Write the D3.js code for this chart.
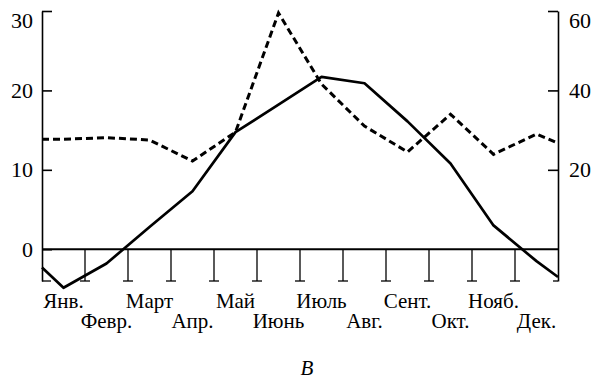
<!DOCTYPE html>
<html>
<head>
<meta charset="utf-8">
<script src="https://cdn.jsdelivr.net/npm/d3@7"></script>
<style>
  html, body { margin: 0; padding: 0; background: #fff; }
  svg { display: block; }
</style>
</head>
<body>
<script>
// Monthly climate: mean air temperature (°C, left axis) and precipitation (mm, right axis)
const months = ["Янв.", "Февр.", "Март", "Апр.", "Май", "Июнь", "Июль", "Авг.", "Сент.", "Окт.", "Нояб.", "Дек."];
const temperature = [-4.85, -1.8, 2.8, 7.3, 14.75, 18.2, 21.7, 20.9, 16.1, 10.8, 3.0, -1.5];
const precipitation = [27.7, 28.1, 27.5, 22.2, 29.5, 59.5, 41.6, 31.0, 24.5, 34.0, 23.9, 29.0];
// values at the opening and closing edge of the year
const temperatureEdges = [-2.3, -3.5];
const precipitationEdges = [27.7, 26.7];
const temperatureTicks = [0, 10, 20, 30];
const precipitationTicks = [20, 40, 60];
const caption = "B";

const W = 594, H = 383;
const plotLeft = 42, plotRight = 558, plotTop = 11, plotBottom = 281;
const serif = "'Liberation Serif', 'Times New Roman', serif";

const svg = d3.select("body").append("svg")
  .attr("width", W).attr("height", H)
  .attr("font-family", serif);
svg.append("rect").attr("width", W).attr("height", H).attr("fill", "#fff");

// month index 1..12 sits in the middle of its interval; edges at 0.5 and 12.5
const x = d3.scaleLinear().domain([0.5, 12.5]).range([plotLeft, plotRight]);
const yT = d3.scaleLinear().domain([-4, 30]).range([plotBottom, plotTop]);
const yP = d3.scaleLinear().domain([-8, 60]).range([plotBottom, plotTop]);
const y0 = yT(0);

// left (temperature) axis
const axL = svg.append("g").attr("transform", `translate(${plotLeft},0)`)
  .call(d3.axisLeft(yT).tickValues(temperatureTicks).tickSize(-10).tickSizeOuter(0).tickPadding(9)
    .tickFormat(d3.format("d")));
// right (precipitation) axis
const axR = svg.append("g").attr("transform", `translate(${plotRight},0)`)
  .call(d3.axisRight(yP).tickValues(precipitationTicks).tickSize(-10).tickSizeOuter(0).tickPadding(11)
    .tickFormat(d3.format("d")));

[axL, axR].forEach(g => {
  g.attr("font-family", serif).attr("font-size", 22);
  g.select(".domain").attr("stroke", "#000").attr("stroke-width", 1.6);
  g.selectAll(".tick line").attr("stroke", "#000").attr("stroke-width", 1.6);
  g.selectAll(".tick text").attr("fill", "#000");
});
// top labels sit just below the axis end
axL.selectAll(".tick").filter(d => d === 30).select("text").attr("y", 9);
axR.selectAll(".tick").filter(d => d === 60).select("text").attr("y", 9);

// month boundary ticks hanging from the zero line
const bounds = d3.range(0, 13).map(i => i + 0.5);
const mt = svg.append("g").attr("stroke", "#000").attr("stroke-width", 1.3);
mt.selectAll("line.v").data(bounds.slice(1, 12)).join("line").attr("class", "v")
  .attr("x1", d => x(d)).attr("x2", d => x(d)).attr("y1", y0).attr("y2", plotBottom);
mt.selectAll("line.c").data(bounds).join("line").attr("class", "c")
  .attr("x1", (d, i) => i === 0 ? x(d) : x(d) - 5)
  .attr("x2", (d, i) => i === 12 ? x(d) : (i === 0 ? x(d) + 9 : x(d) + 5))
  .attr("y1", plotBottom).attr("y2", plotBottom);

// zero line
svg.append("line").attr("x1", x(0.5)).attr("x2", x(12.5)).attr("y1", y0).attr("y2", y0)
  .attr("stroke", "#000").attr("stroke-width", 2.2);

// series with edge values
const tempPts = [[0.5, temperatureEdges[0]], ...temperature.map((v, i) => [i + 1, v]), [12.5, temperatureEdges[1]]];
const precPts = [[0.5, precipitationEdges[0]], ...precipitation.map((v, i) => [i + 1, v]), [12.5, precipitationEdges[1]]];

svg.append("path").datum(precPts)
  .attr("d", d3.line().x(d => x(d[0])).y(d => yP(d[1])))
  .attr("fill", "none").attr("stroke", "#000").attr("stroke-width", 3)
  .attr("stroke-dasharray", "7,4").attr("stroke-linejoin", "miter");

svg.append("path").datum(tempPts)
  .attr("d", d3.line().x(d => x(d[0])).y(d => yT(d[1])))
  .attr("fill", "none").attr("stroke", "#000").attr("stroke-width", 2.7)
  .attr("stroke-linejoin", "round");

// month labels in two staggered rows
svg.append("g").attr("font-size", 21).attr("fill", "#000")
  .selectAll("text").data(months).join("text")
  .attr("x", (d, i) => x(i + 1))
  .attr("y", (d, i) => i % 2 === 0 ? 308 : 328)
  .attr("text-anchor", "middle")
  .text(d => d);

svg.append("text").attr("x", 307).attr("y", 375).attr("text-anchor", "middle")
  .attr("font-size", 21).attr("font-style", "italic").attr("fill", "#000").text(caption);
</script>
</body>
</html>
